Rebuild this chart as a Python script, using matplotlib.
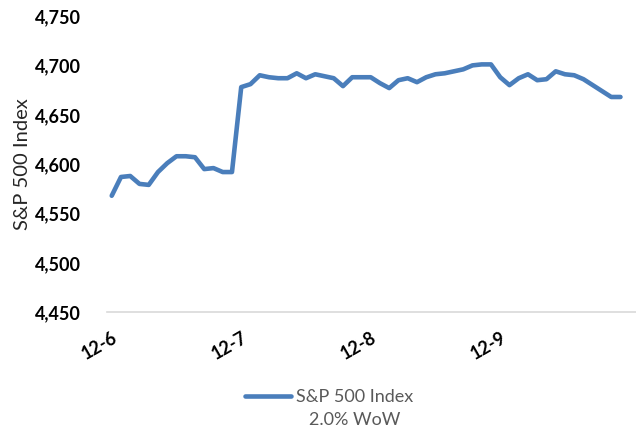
import matplotlib
matplotlib.use("Agg")
import matplotlib.pyplot as plt
from matplotlib.lines import Line2D

# ---- data ----
day_labels = ["12-6", "12-7", "12-8", "12-9"]
points_per_day = 14
day1 = [4568, 4587, 4588, 4580, 4579, 4592, 4601, 4608, 4608, 4607, 4595, 4596, 4592, 4592]
day2 = [4678, 4681, 4690, 4688, 4687, 4687, 4692, 4687, 4691, 4689, 4687, 4679, 4688, 4688]
day3 = [4688, 4682, 4677, 4685, 4687, 4683, 4688, 4691, 4692, 4694, 4696, 4700, 4701, 4701]
day4 = [4688, 4680, 4687, 4691, 4685, 4686, 4694, 4691, 4690, 4686, 4680, 4674, 4668, 4668]
values = day1 + day2 + day3 + day4
y_ticks = [4450, 4500, 4550, 4600, 4650, 4700, 4750]
series_name = "S&P 500 Index"
legend_note = "2.0% WoW"
y_label = "S&P 500 Index"

W, H = 636, 433
fig = plt.figure(figsize=(W / 100, H / 100), dpi=100)
left_px, right_px, top_px, bottom_px = 107.1, 636, 16, 312.3
ax = fig.add_axes([left_px / W, 1 - bottom_px / H,
                   (right_px - left_px) / W, (bottom_px - top_px) / H])

color = "#4a7ebb"
x = list(range(len(values)))
line, = ax.plot(x, values, color=color, lw=3.3, solid_joinstyle="round",
                solid_capstyle="round")

ax.set_ylim(y_ticks[0], y_ticks[-1])
ax.set_xlim(-0.5, -0.5 + (right_px - left_px) / 9.25)
ax.set_yticks(y_ticks)
ax.set_yticklabels([f"{v:,}" for v in y_ticks], fontfamily="Lato",
                   fontweight="bold", fontsize=13, color="#000000")
ax.set_xticks([i * points_per_day for i in range(len(day_labels))])
ax.set_xticklabels(day_labels, fontfamily="Lato", fontweight="bold",
                   fontsize=13, rotation=30, ha="right",
                   rotation_mode="anchor", color="#000000")
ax.tick_params(axis="y", length=0, pad=19)
ax.tick_params(axis="x", length=0, pad=12)

for s in ["top", "right", "left"]:
    ax.spines[s].set_visible(False)
ax.spines["bottom"].set_color("#d9d9d9")
ax.spines["bottom"].set_linewidth(1.2)

fig.text(23 / W, 1 - 164 / H, y_label, rotation=90, ha="center", va="center",
         fontfamily="Lato", fontsize=14.5, color="#262626")

handle = Line2D([], [], color=color, lw=3.3, solid_capstyle="round")
fig.legend([handle], [series_name], loc="center",
           bbox_to_anchor=(329 / W, 1 - 397 / H), frameon=False,
           handlelength=2.55, handletextpad=0.25,
           prop={"family": "Lato", "size": 13})
for t in fig.legends[0].get_texts():
    t.set_color("#595959")
fig.text(355 / W, 1 - 420 / H, legend_note, ha="center", va="center",
         fontfamily="Lato", fontsize=13, color="#595959")

fig.savefig("out.png", dpi=100)
